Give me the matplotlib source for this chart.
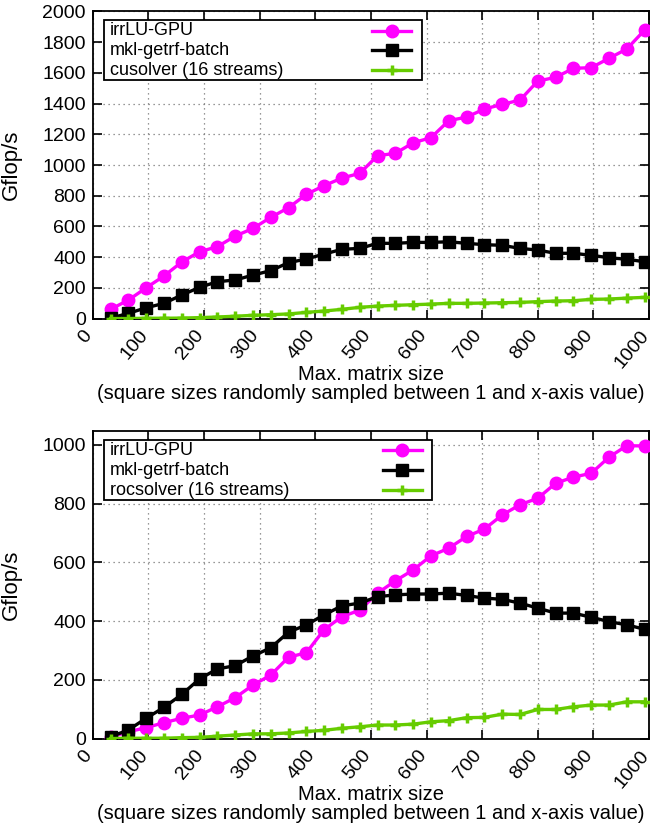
import matplotlib
matplotlib.use('Agg')
from matplotlib import pyplot as plt
from matplotlib import patches as mpatches

# Max. matrix size of each batch
SIZES = [32, 64, 96, 128, 160, 192, 224, 256, 288, 320, 352, 384, 416,
         448, 480, 512, 544, 576, 608, 640, 672, 704, 736, 768, 800, 832,
         864, 896, 928, 960, 992]

# NVIDIA run (Gflop/s)
IRRLU_NV = [60, 120, 200, 277, 368, 435, 468, 537, 587, 659, 722, 809, 866,
            915, 946, 1061, 1076, 1145, 1178, 1289, 1312, 1365, 1395, 1423,
            1547, 1571, 1630, 1634, 1695, 1756, 1879]
MKL_NV = [2, 34, 70, 99, 153, 203, 240, 251, 283, 312, 364, 388, 420,
          451, 457, 490, 490, 496, 496, 500, 490, 481, 477, 457, 446, 425,
          425, 412, 396, 386, 370]
CUSOLVER = [0, 0, 2, 2, 3, 6, 10, 15, 21, 25, 30, 40, 49,
            60, 73, 81, 86, 90, 94, 99, 99, 101, 103, 105, 110, 114,
            116, 125, 127, 133, 138]

# AMD run (Gflop/s)
IRRLU_AMD = [5, 23, 37, 54, 69, 80, 108, 139, 182, 216, 277, 292, 371,
             415, 437, 495, 537, 574, 622, 648, 688, 713, 761, 796, 818,
             869, 890, 903, 958, 997, 996]
MKL_AMD = [6, 29, 69, 106, 150, 203, 237, 248, 281, 309, 362, 387, 421,
           452, 461, 483, 489, 492, 492, 495, 487, 478, 474, 461, 444, 427,
           427, 413, 398, 387, 372]
ROCSOLVER = [0, 1, 1, 1, 3, 4, 8, 12, 16, 16, 19, 24, 28,
             35, 40, 46, 46, 49, 57, 61, 71, 72, 83, 82, 99, 99,
             108, 114, 114, 125, 125]

LABELS_NV = ['irrLU-GPU', 'mkl-getrf-batch', 'cusolver (16 streams)']
LABELS_AMD = ['irrLU-GPU', 'mkl-getrf-batch', 'rocsolver (16 streams)']

XLABEL = 'Max. matrix size\n(square sizes randomly sampled between 1 and x-axis value)'

STYLES = [
    dict(color='#ff00ff', marker='o', markersize=9),
    dict(color='#000000', marker='s', markersize=8),
    dict(color='#66cc00', marker='+', markersize=7, markeredgewidth=2.5),
]

plt.rcParams['font.family'] = ['Liberation Sans', 'DejaVu Sans']


# gnuplot style key: text on the left, line samples on the right
def draw_key(ax, labels, box_right, sample_left, sample_right):
    ax.add_patch(mpatches.Rectangle((0.02, 0.777), box_right - 0.02, 0.195,
                                    transform=ax.transAxes, facecolor='white',
                                    edgecolor='black', lw=1.3, zorder=5))
    rows = [0.9375, 0.873, 0.808]
    mid = (sample_left + sample_right) / 2
    for label, style, y in zip(labels, STYLES, rows):
        ax.text(0.031, y, label, transform=ax.transAxes, ha='left',
                va='center', fontsize=13, zorder=6)
        ax.plot([sample_left, mid, sample_right], [y, y, y],
                transform=ax.transAxes, lw=2.4, markevery=[1],
                clip_on=False, zorder=6, **style)


def draw_panel(ax, series, labels, ymax, box_right, sample_left,
               sample_right):
    for values, style in zip(series, STYLES):
        ax.plot(SIZES, values, lw=2.4, zorder=3, **style)

    ax.set_xlim(0, 1000)
    ax.set_ylim(0, ymax)
    ax.set_xticks(range(0, 1001, 100))
    ax.set_yticks(range(0, int(ymax) + 1, 200))
    ax.grid(True, linestyle=(0, (1, 3)), color='#777777', lw=0.9)
    ax.tick_params(direction='in', length=6.5, width=1.2, top=True,
                   right=True, labelsize=14)
    ax.tick_params(axis='y', pad=5)
    ax.tick_params(axis='x', pad=12)
    plt.setp(ax.get_xticklabels(), rotation=50, ha='right', va='baseline',
             rotation_mode='anchor')
    for spine in ax.spines.values():
        spine.set_linewidth(1.3)

    ax.set_ylabel('Gflop/s', fontsize=16)
    ax.yaxis.set_label_coords(-0.128, 0.5)
    ax.set_xlabel(XLABEL, fontsize=14.5, linespacing=1.0)
    ax.xaxis.set_label_coords(0.5, -0.152)

    draw_key(ax, labels, box_right, sample_left, sample_right)


fig = plt.figure(figsize=(6.53, 8.33), dpi=100)
ax_top = fig.add_axes([0.142, 0.6176, 0.852, 0.3686])
ax_bot = fig.add_axes([0.142, 0.1134, 0.852, 0.3692])

draw_panel(ax_top, [IRRLU_NV, MKL_NV, CUSOLVER], LABELS_NV, 2000,
           0.591, 0.5026, 0.5716)
draw_panel(ax_bot, [IRRLU_AMD, MKL_AMD, ROCSOLVER], LABELS_AMD, 1047,
           0.6094, 0.5213, 0.5914)

fig.savefig('out.png', dpi=100)
